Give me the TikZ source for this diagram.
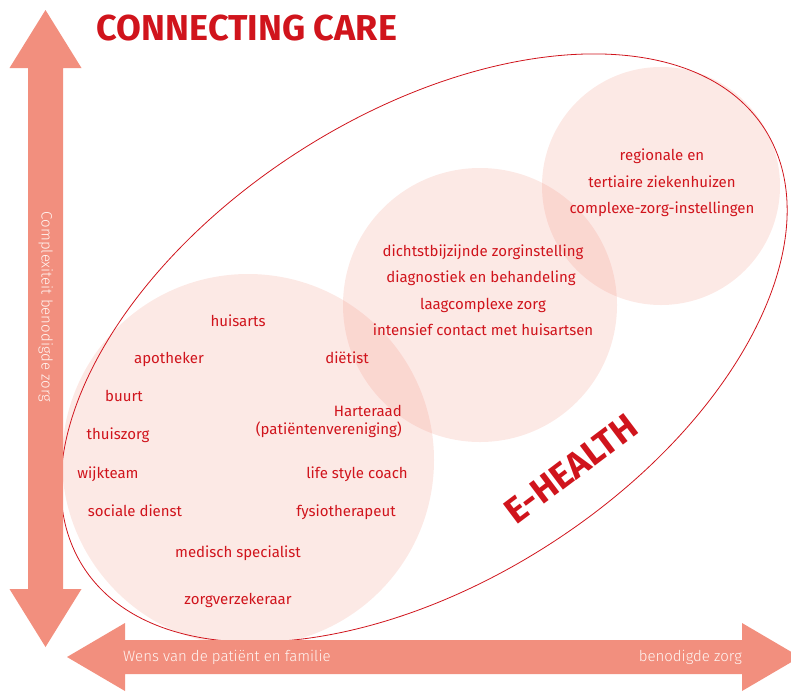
\documentclass[tikz,border=0pt]{standalone}
\usepackage{fontspec}
\setmainfont{Fira Sans}
\newfontfamily\thinsans{Fira Sans Light}
\usepackage{xcolor}
\definecolor{carered}{HTML}{D0141C}
\definecolor{salmon}{HTML}{F28F7E}
\definecolor{paletext}{HTML}{FFF6F3}
\usepackage{tikz}
\usetikzlibrary{calc}

\begin{document}
\begin{tikzpicture}[
  x=1pt, y=-1pt,
  zone/.style={fill=salmon, fill opacity=0.2},
  item/.style={text=carered, font=\fontsize{15}{18}\selectfont, inner sep=0pt, text height=10.5pt, text depth=3pt, yshift=-2pt},
  axislabel/.style={text=paletext, font=\thinsans\fontsize{15}{17}\selectfont, inner sep=0pt, text height=10pt, text depth=3pt},
  headline/.style={text=carered, font=\fontsize{36}{40}\selectfont\bfseries, inner sep=0pt},
  axisarrow/.style={fill=salmon},
  scopeline/.style={draw=carered, line width=0.8pt},
]
\clip (0,0) rectangle (791,691);

% Zonas de zorg
\fill[zone] (248,460) circle (186);
\fill[zone] (480,305) circle (137);
\fill[zone] (661,186) circle (119);

% Ellips e-health
\draw[scopeline, rotate around={32.8:(424,348)}] (424,348) ellipse (405 and 233);

% Assen
\fill[axisarrow] (45.5,10) -- (81.5,68) -- (63,68) -- (63,589) -- (81.5,589) -- (45.5,647)
  -- (9.5,589) -- (28,589) -- (28,68) -- (9.5,68) -- cycle;
\fill[axisarrow] (67,657) -- (125,623) -- (125,640) -- (742,640) -- (742,623) -- (800,657)
  -- (742,691) -- (742,674) -- (125,674) -- (125,691) -- cycle;

\node[axislabel, rotate=-90] (complexity) at (45,307) {Complexiteit benodigde zorg};
\node[axislabel, anchor=west] (wish) at (123,658) {Wens van de patiënt en familie};
\node[axislabel, anchor=east] (need) at (742,658) {benodigde zorg};

% Titels
\node[headline] (title) at (247,28) {CONNECTING CARE};
\node[headline, rotate=37] (ehealth) at (571,469) {E-HEALTH};

% Eerste lijn
\node[item] (huisarts) at (238,321) {huisarts};
\node[item] (apotheker) at (169,358) {apotheker};
\node[item] (dietist) at (347,358) {diëtist};
\node[item] (buurt) at (124,396) {buurt};
\node[item, align=right, anchor=east, text height=, text depth=] (harteraad) at (402,419) {Harteraad\\(patiëntenvereniging)};
\node[item] (thuiszorg) at (118,434) {thuiszorg};
\node[item] (wijkteam) at (108,473) {wijkteam};
\node[item] (coach) at (357,473) {life style coach};
\node[item] (sociaal) at (135,511) {sociale dienst};
\node[item] (fysio) at (346,511) {fysiotherapeut};
\node[item] (specialist) at (238,552) {medisch specialist};
\node[item] (verzekeraar) at (238,599) {zorgverzekeraar};

% Tweede lijn
\node[item] (nabij) at (483,251) {dichtstbijzijnde zorginstelling};
\node[item] (diagnostiek) at (481,277) {diagnostiek en behandeling};
\node[item] (laagcomplex) at (483,304) {laagcomplexe zorg};
\node[item] (contact) at (483,330) {intensief contact met huisartsen};

% Derde lijn
\node[item] (regionaal) at (662,155) {regionale en};
\node[item] (tertiair) at (662,182) {tertiaire ziekenhuizen};
\node[item] (complex) at (662,208) {complexe-zorg-instellingen};

\end{tikzpicture}
\end{document}
